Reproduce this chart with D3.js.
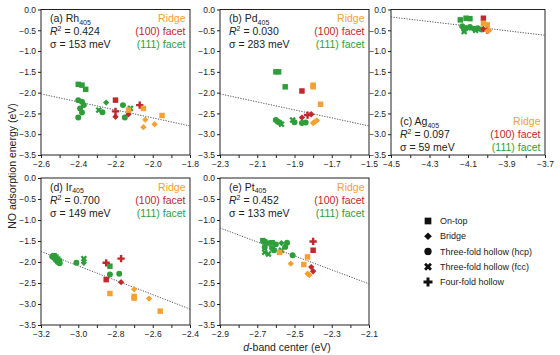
<!DOCTYPE html>
<html><head><meta charset="utf-8">
<script src="https://cdn.jsdelivr.net/npm/d3@7"></script>
<style>body{margin:0;background:#fff}svg{display:block}</style>
</head><body>
<svg id="chart" width="560" height="355"></svg>
<script>
// ---------- DATA ----------
// [d-band center, adsorption energy, facet, site]
const rhPoints = [
  [-2.40,-1.80,"111","top"],[-2.38,-1.82,"111","top"],[-2.36,-1.92,"111","top"],
  [-2.40,-2.18,"111","hcp"],[-2.38,-2.22,"111","hcp"],[-2.37,-2.30,"111","hcp"],[-2.39,-2.38,"111","hcp"],
  [-2.38,-2.48,"111","hcp"],[-2.40,-2.60,"111","hcp"],[-2.27,-2.47,"111","hcp"],[-2.15,-2.60,"111","hcp"],
  [-2.16,-2.30,"111","hcp"],[-2.25,-2.24,"111","bridge"],[-2.29,-2.42,"111","fcc"],[-2.12,-2.38,"111","fcc"],
  [-2.20,-2.18,"100","top"],[-2.20,-2.45,"100","four"],[-2.07,-2.30,"100","four"],
  [-2.20,-2.58,"100","bridge"],[-2.13,-2.52,"100","bridge"],
  [-2.13,-2.42,"ridge","top"],[-2.05,-2.38,"ridge","top"],[-1.95,-2.55,"ridge","top"],
  [-2.04,-2.65,"ridge","bridge"],[-2.05,-2.83,"ridge","bridge"],[-1.99,-2.76,"ridge","bridge"]
];
const pdPoints = [
  [-2.00,-1.50,"111","top"],[-1.985,-1.50,"111","top"],[-1.95,-1.86,"111","top"],
  [-2.00,-2.66,"111","hcp"],[-1.99,-2.70,"111","hcp"],[-1.98,-2.72,"111","hcp"],[-1.86,-2.73,"111","hcp"],
  [-1.84,-2.72,"111","hcp"],[-1.90,-2.71,"111","hcp"],[-1.97,-2.76,"111","fcc"],[-1.91,-2.66,"111","fcc"],
  [-1.86,-1.96,"100","top"],[-1.86,-2.60,"100","bridge"],[-1.83,-2.54,"100","four"],[-1.81,-2.52,"100","bridge"],
  [-1.80,-1.82,"ridge","top"],[-1.80,-1.86,"ridge","top"],[-1.76,-2.28,"ridge","top"],
  [-1.80,-2.73,"ridge","bridge"],[-1.78,-2.67,"ridge","bridge"],[-1.79,-2.70,"ridge","bridge"]
];
const agPoints = [
  [-4.14,-0.25,"111","top"],[-4.11,-0.21,"111","top"],[-4.09,-0.22,"111","top"],
  [-4.13,-0.40,"111","hcp"],[-4.11,-0.45,"111","hcp"],[-4.09,-0.42,"111","hcp"],[-4.07,-0.46,"111","hcp"],
  [-4.05,-0.45,"111","hcp"],[-4.03,-0.48,"111","hcp"],[-4.12,-0.48,"111","hcp"],
  [-4.12,-0.53,"111","fcc"],[-4.06,-0.50,"111","fcc"],[-4.09,-0.44,"111","bridge"],[-4.02,-0.47,"111","bridge"],
  [-4.02,-0.21,"100","top"],[-4.02,-0.47,"100","bridge"],[-4.00,-0.50,"100","four"],
  [-4.02,-0.33,"ridge","top"],[-4.00,-0.37,"ridge","top"],[-3.99,-0.50,"ridge","bridge"],[-4.00,-0.52,"ridge","bridge"]
];
const irPoints = [
  [-3.13,-1.85,"111","top"],[-3.12,-1.88,"111","top"],[-3.11,-1.93,"111","top"],[-3.10,-1.98,"111","top"],
  [-3.13,-1.90,"111","hcp"],[-3.12,-1.95,"111","hcp"],[-3.11,-2.00,"111","hcp"],[-3.10,-2.03,"111","hcp"],
  [-3.14,-1.87,"111","hcp"],[-3.01,-2.02,"111","hcp"],[-2.83,-2.30,"111","hcp"],[-2.78,-2.28,"111","hcp"],
  [-2.97,-1.92,"111","fcc"],[-2.97,-2.02,"111","bridge"],[-2.83,-2.10,"111","top"],
  [-2.85,-2.02,"100","four"],[-2.77,-1.92,"100","four"],[-2.85,-2.42,"100","top"],[-2.77,-2.48,"100","bridge"],
  [-2.83,-2.75,"ridge","top"],[-2.70,-2.82,"ridge","top"],[-2.70,-2.86,"ridge","top"],[-2.56,-3.17,"ridge","top"],
  [-2.70,-2.65,"ridge","bridge"],[-2.62,-2.87,"ridge","bridge"]
];
const ptPoints = [
  [-2.67,-1.49,"111","top"],[-2.66,-1.52,"111","top"],[-2.64,-1.55,"111","top"],[-2.62,-1.54,"111","top"],
  [-2.60,-1.58,"111","hcp"],[-2.62,-1.67,"111","hcp"],[-2.66,-1.65,"111","hcp"],[-2.61,-1.72,"111","hcp"],
  [-2.55,-1.64,"111","hcp"],[-2.51,-1.84,"111","hcp"],[-2.54,-1.54,"111","hcp"],[-2.57,-1.55,"111","bridge"],
  [-2.66,-1.77,"111","fcc"],[-2.64,-1.81,"111","fcc"],[-2.57,-1.72,"111","fcc"],
  [-2.40,-1.51,"100","four"],[-2.40,-1.72,"100","top"],[-2.41,-2.12,"100","bridge"],[-2.40,-2.22,"100","bridge"],
  [-2.58,-1.77,"ridge","top"],[-2.43,-1.88,"ridge","top"],[-2.45,-2.06,"ridge","top"],
  [-2.52,-2.04,"ridge","bridge"],[-2.43,-2.28,"ridge","bridge"],[-2.42,-2.31,"ridge","bridge"]
];
// regression lines: [[x0,y0],[x1,y1]]
const rhFit = [[-2.6,-2.03],[-1.8,-2.80]];
const pdFit = [[-2.3,-2.03],[-1.5,-2.80]];
const agFit = [[-4.5,-0.18],[-3.7,-0.62]];
const irFit = [[-3.2,-1.75],[-2.4,-3.12]];
const ptFit = [[-2.9,-1.19],[-2.1,-2.52]];

const panelLetters = ["(a)","(b)","(c)","(d)","(e)"];
const metals = ["Rh","Pd","Ag","Ir","Pt"];
const clusterSize = "405";
const r2Values = ["0.424","0.030","0.097","0.700","0.452"];
const sigmaValues = ["153","283","59","149","133"];
const xDomains = [[-2.6,-1.8],[-2.3,-1.5],[-4.5,-3.7],[-3.2,-2.4],[-2.9,-2.1]];
const yDomain = [-3.5,0];
const yTickValues = [0,-0.5,-1.0,-1.5,-2.0,-2.5,-3.0,-3.5];
const facetKeys = ["ridge","100","111"];
const facetLabels = ["Ridge","(100) facet","(111) facet"];
const siteKeys = ["top","bridge","hcp","fcc","four"];
const siteLabels = ["On-top","Bridge","Three-fold hollow (hcp)","Three-fold hollow (fcc)","Four-fold hollow"];
const xTitle = "-band center (eV)";
const yTitle = "NO adsorption energy (eV)";

// ---------- STYLE / LAYOUT ----------
const FONT = "'Liberation Sans', Arial, Helvetica, sans-serif";
const facetColor = {ridge:"#F5A031", "100":"#C1272D", "111":"#2E9E3A"};
const allPoints = [rhPoints,pdPoints,agPoints,irPoints,ptPoints];
const allFits = [rhFit,pdFit,agFit,irFit,ptFit];
const boxes = [
  {l:41,r:190,t:9.5,b:155, annot:"top"},
  {l:220,r:369,t:9.5,b:155, annot:"top"},
  {l:391,r:545,t:9.5,b:155, annot:"bottom"},
  {l:41,r:190,t:178,b:325, annot:"top"},
  {l:220,r:369,t:178,b:325, annot:"top"}
];

const svg = d3.select("#chart").style("font-family", FONT);

function symbolFor(site, k) {
  k = k || 1;
  switch (site) {
    case "top": return {d: d3.symbol(d3.symbolSquare, 30*k)(), rot: 0};
    case "bridge": return {d: d3.symbol(d3.symbolSquare, 20*k)(), rot: 45};
    case "hcp": return {d: d3.symbol(d3.symbolCircle, 28*k)(), rot: 0};
    case "fcc": return {d: d3.symbol(d3.symbolCross, 26*k)(), rot: 45};
    default: return {d: d3.symbol(d3.symbolCross, 30*k)(), rot: 0};
  }
}

boxes.forEach((bx, i) => {
  const x = d3.scaleLinear().domain(xDomains[i]).range([bx.l, bx.r]);
  const y = d3.scaleLinear().domain(yDomain).range([bx.b, bx.t]);
  const g = svg.append("g");

  // frame
  g.append("rect").attr("x", bx.l).attr("y", bx.t).attr("width", bx.r-bx.l).attr("height", bx.b-bx.t)
    .attr("fill","none").attr("stroke","#222").attr("stroke-width",1);

  // y axis
  const yAxis = d3.axisLeft(y).tickValues(yTickValues).tickSize(3).tickPadding(2)
    .tickFormat(d => d3.format(".1f")(d).replace("-", "\u2212"));
  const ya = g.append("g").attr("transform", `translate(${bx.l},0)`).call(yAxis);
  ya.select(".domain").remove();
  ya.selectAll("line").attr("stroke","#222");
  ya.selectAll("text").attr("font-size", 8.5).attr("fill","#222").attr("font-family", FONT);

  // x axis (minor ticks every 0.1, labels every 0.2)
  const [x0, x1] = xDomains[i];
  const minor = d3.range(0, 9).map(j => +(x0 + j*0.1).toFixed(2));
  const xAxis = d3.axisBottom(x).tickValues(minor).tickSize(3).tickPadding(3)
    .tickFormat((d, j) => j % 2 === 0 ? d3.format(".1f")(d).replace("-", "\u2212") : "");
  const xa = g.append("g").attr("transform", `translate(0,${bx.b})`).call(xAxis);
  xa.select(".domain").remove();
  xa.selectAll("line").attr("stroke","#222");
  xa.selectAll("text").attr("font-size", 8.5).attr("fill","#222").attr("font-family", FONT);

  // regression line
  const fit = allFits[i];
  g.append("line")
    .attr("x1", x(fit[0][0])).attr("y1", y(fit[0][1]))
    .attr("x2", x(fit[1][0])).attr("y2", y(fit[1][1]))
    .attr("stroke","#555").attr("stroke-width",1).attr("stroke-dasharray","1.2,1.4");

  // points: green, then red, then orange
  const pts = allPoints[i].slice().sort((a, b) => facetKeys.indexOf(b[2]) - facetKeys.indexOf(a[2]));
  g.selectAll("path.pt").data(pts).enter().append("path").attr("class","pt")
    .attr("d", d => symbolFor(d[3]).d)
    .attr("transform", d => `translate(${x(d[0])},${y(d[1])}) rotate(${symbolFor(d[3]).rot})`)
    .attr("fill", d => facetColor[d[2]]);

  // annotation
  const lh = 13;
  let base;
  if (bx.annot === "top") base = bx.t + 12.5;
  else base = y(-3.0) + 4 - lh;
  const lx = bx.l + 9, rx = bx.r - 4.5;
  const t1 = g.append("text").attr("x", lx).attr("y", base).attr("font-size", 10.5).attr("fill","#222");
  t1.append("tspan").text(panelLetters[i] + " " + metals[i]);
  t1.append("tspan").attr("font-size", 7).attr("dy", 2.5).text(clusterSize);
  const t2 = g.append("text").attr("x", lx).attr("y", base + lh).attr("font-size", 10.5).attr("fill","#222");
  t2.append("tspan").attr("font-style","italic").text("R");
  t2.append("tspan").attr("font-size", 7).attr("dy", -4).text("2");
  t2.append("tspan").attr("dy", 4).text(" = " + r2Values[i]);
  g.append("text").attr("x", lx).attr("y", base + 2*lh).attr("font-size", 10.5).attr("fill","#222")
    .text("\u03c3 = " + sigmaValues[i] + " meV");
  facetKeys.forEach((fk, j) => {
    g.append("text").attr("x", rx).attr("y", base + j*lh).attr("text-anchor","end")
      .attr("font-size", 10.5).attr("fill", facetColor[fk]).text(facetLabels[j]);
  });
});

// axis titles
const xt = svg.append("text").attr("x", 287).attr("y", 351).attr("text-anchor","middle")
  .attr("font-size", 10.5).attr("fill","#222");
xt.append("tspan").attr("font-style","italic").text("d");
xt.append("tspan").text(xTitle);
svg.append("text").attr("transform", "translate(16,166) rotate(-90)").attr("text-anchor","middle")
  .attr("font-size", 10.5).attr("fill","#222").text(yTitle);

// legend
const legY = d3.scalePoint().domain(siteKeys).range([221, 282]);
const leg = svg.append("g");
siteKeys.forEach((sk, j) => {
  const s = symbolFor(sk, 1.5);
  leg.append("path").attr("d", s.d)
    .attr("transform", `translate(428,${legY(sk)}) rotate(${s.rot})`).attr("fill","#111");
  leg.append("text").attr("x", 440).attr("y", legY(sk) + 3.2).attr("font-size", 9)
    .attr("fill","#222").text(siteLabels[j]);
});
</script>
</body></html>
